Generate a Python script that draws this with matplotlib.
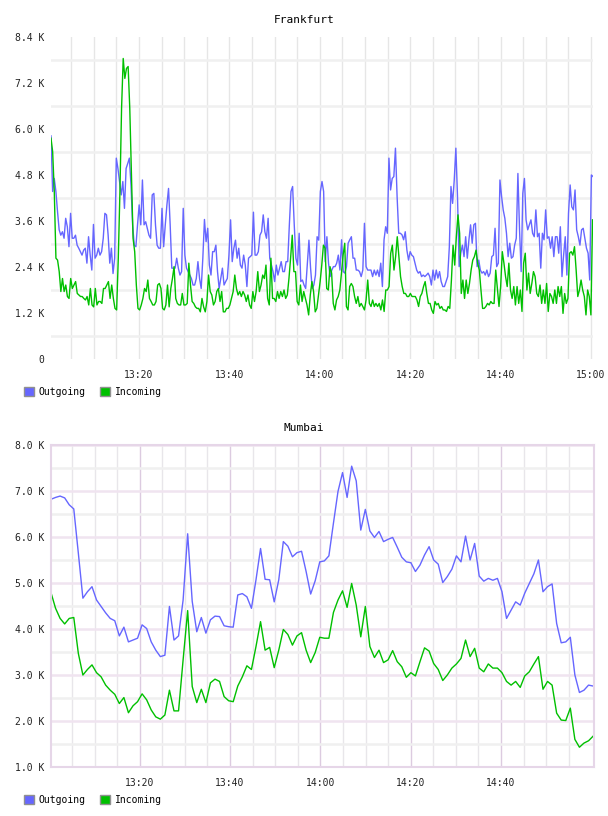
import matplotlib.pyplot as plt
import numpy as np
from matplotlib.patches import Patch

# minutes after 13:00, values in K
frankfurt_out = [
    5.82, 4.37, 4.71, 4.37, 3.84, 3.37, 3.23, 3.32, 3.15, 3.67, 3.45, 2.93, 3.80, 3.15, 3.15, 3.23,
    2.97, 2.89, 2.80, 2.71, 2.84, 2.89, 2.50, 3.19, 2.71, 2.32, 3.51, 2.63, 2.71, 2.89, 2.71, 2.80,
    3.15, 3.80, 3.76, 3.23, 2.50, 2.89, 2.23, 2.63, 5.24, 4.97, 4.63, 4.28, 4.63, 3.93, 4.97, 5.10,
    5.24, 4.54, 3.50, 2.97, 2.93, 3.50, 4.02, 3.50, 4.67, 3.50, 3.58, 3.41, 3.23, 3.15, 4.28, 4.32,
    3.50, 2.97, 2.89, 2.89, 3.93, 2.93, 3.50, 4.02, 4.45, 3.50, 2.37, 2.37, 2.37, 2.63, 2.37, 2.19,
    2.28, 3.93, 2.71, 2.37, 2.28, 2.19, 2.10, 1.93, 1.93, 2.10, 2.54, 2.10, 1.84, 2.63, 3.64, 3.06,
    3.41, 2.45, 2.19, 2.80, 2.80, 2.97, 2.28, 1.84, 2.10, 2.37, 1.93, 2.02, 2.10, 2.71, 3.63, 2.54,
    2.89, 3.10, 2.63, 2.89, 2.45, 2.37, 2.71, 2.45, 1.89, 2.63, 2.67, 2.71, 3.83, 2.71, 2.71, 2.80,
    3.23, 3.32, 3.76, 3.32, 3.15, 3.67, 2.63, 2.45, 2.28, 2.02, 2.45, 2.19, 2.37, 2.54, 2.28, 2.28,
    2.54, 2.54, 3.50, 4.37, 4.50, 3.50, 2.63, 2.45, 3.28, 2.02, 2.06, 1.93, 1.84, 2.45, 3.10, 2.37,
    1.84, 1.93, 2.19, 3.19, 3.10, 4.37, 4.63, 4.37,
    2.54, 3.19, 2.50, 2.15, 2.32, 2.41, 2.41, 2.50, 2.71, 2.32, 3.11, 2.28, 2.24, 2.41, 3.02, 3.11,
    3.19, 2.63, 2.63, 2.32, 2.32, 2.28, 2.15, 2.32, 3.54, 2.41, 2.32, 2.32, 2.32, 2.15, 2.32, 2.19,
    2.32, 2.15, 2.50, 1.89, 3.11, 3.45, 3.28, 5.24, 4.41, 4.71, 4.76, 5.50, 4.24, 3.28, 3.28, 3.24,
    3.11, 3.32, 2.84, 2.58, 2.80, 2.71, 2.67, 2.50, 2.32, 2.24, 2.28, 2.15, 2.19, 2.15, 2.19, 2.24,
    2.15, 1.93, 2.32, 2.06, 2.32, 2.11, 2.28, 2.02, 1.89, 1.89, 2.02, 2.15, 2.93, 4.50, 4.06, 4.67,
    5.50, 4.24, 2.41, 2.76, 2.97, 2.67, 3.19, 2.63, 3.11, 3.50, 3.02, 3.50, 3.54, 2.41, 2.58, 2.32,
    2.24, 2.28, 2.19, 2.32, 2.15, 2.24, 2.67, 2.71, 3.41, 2.41, 2.50, 4.67, 4.24, 3.89, 3.67, 3.28,
    2.67, 3.02, 2.63, 2.67, 2.97, 3.15, 4.84, 3.37, 2.28, 4.32, 4.71, 3.63, 3.37, 3.50, 3.63, 3.28,
    3.19, 3.89, 3.19, 3.28, 2.37, 3.28, 3.11, 3.89, 3.15, 3.19, 2.89, 3.19, 2.67, 3.19, 3.19, 2.76,
    3.45, 2.15, 2.71, 3.19, 2.19, 3.80, 4.54, 3.97, 3.89, 4.41, 3.37, 3.19, 2.97, 3.37, 3.41, 3.15,
    2.89, 2.76, 2.06, 4.80, 4.76,
]
frankfurt_in = [
    5.76, 5.41, 4.37, 2.63, 2.58, 2.28, 1.76, 2.10, 1.76, 1.93, 1.63, 1.58, 2.10,
    1.84, 1.93, 2.02, 1.71, 1.67, 1.63, 1.63, 1.58, 1.54, 1.63, 1.41, 1.84, 1.41, 1.36, 1.84, 1.41,
    1.50, 1.50, 1.45, 1.84, 1.84, 1.93, 2.02, 1.58, 1.93, 1.58, 1.32, 1.28, 2.63, 4.37, 6.54, 7.84,
    7.32, 7.58, 7.63, 6.54, 4.80, 3.15, 2.80, 1.93, 1.32, 1.28, 1.41, 1.58, 1.84, 1.76, 2.06, 1.58,
    1.50, 1.41, 1.41, 1.50, 1.93, 1.97, 1.84, 1.32, 1.28, 1.41, 1.93, 1.36, 1.84, 2.10, 2.41, 1.58,
    1.45, 1.41, 1.41, 1.71, 1.41, 1.41, 1.45, 2.50, 1.93, 1.50, 1.45, 1.36, 1.32, 1.32, 1.23, 1.58,
    1.36, 1.23, 1.50, 2.19, 1.76, 1.67, 1.41, 1.50, 1.76, 1.84, 1.50, 1.76, 1.23, 1.23, 1.32, 1.32,
    1.41, 1.58, 1.76, 2.19, 1.84, 1.67, 1.76, 1.63, 1.76, 1.67, 1.50, 1.67, 1.41, 1.32, 1.76, 1.50,
    1.76, 2.28, 1.76, 1.93, 2.19, 2.10, 2.45, 1.58, 1.41, 2.63, 1.58, 1.58, 1.50, 1.76, 1.58, 1.76,
    1.63, 1.80, 1.58, 1.67, 2.10, 2.63, 3.23, 2.28, 2.28, 1.50, 1.41, 1.93, 1.50, 1.76, 1.58, 1.41,
    1.15, 1.67, 2.02, 1.76, 1.23, 1.32, 1.67, 2.02, 2.45, 2.97, 2.89, 1.84,
    1.80, 2.41, 2.24, 1.45, 1.28, 1.54, 1.63, 1.80, 2.24, 2.71, 3.02, 1.37, 1.28, 1.89, 1.97, 1.89,
    1.63, 1.45, 1.63, 1.37, 1.45, 1.37, 1.28, 1.54, 2.06, 1.45, 1.37, 1.54, 1.37, 1.45, 1.37, 1.45,
    1.28, 1.54, 1.24, 1.80, 1.80, 1.89, 2.76, 2.97, 2.32, 2.67, 3.19, 2.67, 2.15, 1.89, 1.71, 1.71,
    1.63, 1.63, 1.71, 1.63, 1.63, 1.63, 1.54, 1.37, 1.63, 1.71, 1.89, 2.02, 1.71, 1.45, 1.45, 1.28,
    1.19, 1.50, 1.41, 1.45, 1.32, 1.37, 1.28, 1.28, 1.24, 1.37, 1.32, 2.06, 2.97, 2.45, 3.19, 3.76,
    3.28, 1.71, 2.06, 1.58, 2.06, 1.71, 1.97, 2.32, 2.58, 2.67, 2.84, 2.50, 2.32, 1.80, 1.32, 1.32,
    1.37, 1.45, 1.41, 1.50, 1.45, 1.45, 2.32, 1.84, 1.37, 1.89, 2.80, 2.50, 2.15, 1.89, 2.50, 1.80,
    1.58, 1.89, 1.41, 1.89, 1.45, 1.80, 1.24, 2.50, 2.76, 1.80, 2.24, 1.71, 1.97, 2.28, 2.15, 1.71,
    1.63, 1.93, 1.45, 1.80, 1.45, 1.97, 1.24, 1.71, 1.63, 1.45, 1.80, 1.45, 1.89, 1.63, 1.89, 1.19,
    1.71, 1.45, 1.58, 2.76, 2.80, 2.71, 2.93, 2.32, 1.63, 1.80, 2.06, 1.80, 1.63, 1.15, 1.80, 1.63,
    1.15, 3.63,
]

mumbai_out = [
    6.82, 6.86, 6.89, 6.85, 6.70, 6.61, 5.65, 4.67, 4.81, 4.92, 4.63, 4.49, 4.35, 4.23, 4.18, 3.85,
    4.04, 3.72, 3.76, 3.80, 4.09, 4.01, 3.72, 3.54, 3.40, 3.43, 4.49, 3.76, 3.85, 4.63, 6.07, 4.60,
    3.94, 4.25, 3.91, 4.20, 4.28, 4.27, 4.07, 4.05, 4.04, 4.74, 4.77, 4.70, 4.45, 5.07, 5.75, 5.08,
    5.07, 4.59, 5.07, 5.90, 5.80, 5.57, 5.66, 5.69, 5.25, 4.76, 5.05, 5.46, 5.48, 5.59, 6.30, 6.99,
    7.40, 6.86, 7.54, 7.22, 6.15, 6.60, 6.13, 5.99, 6.12, 5.90, 5.95, 5.99, 5.78, 5.56, 5.46, 5.44,
    5.25, 5.39, 5.61, 5.79, 5.50, 5.41, 5.01, 5.14, 5.30, 5.59, 5.46, 6.02, 5.50, 5.86, 5.15, 5.04,
    5.10, 5.06, 5.10, 4.81, 4.23, 4.41, 4.59, 4.52, 4.78, 4.99, 5.20, 5.50, 4.81, 4.92, 4.98, 4.12,
    3.70, 3.72, 3.82, 3.00, 2.62, 2.67, 2.78, 2.76,
]
mumbai_in = [
    4.79, 4.45, 4.23, 4.11, 4.23, 4.25, 3.47, 3.00, 3.12, 3.22, 3.05, 2.96, 2.78, 2.67, 2.58, 2.38,
    2.51, 2.18, 2.33, 2.42, 2.59, 2.46, 2.24, 2.09, 2.04, 2.13, 2.67, 2.22, 2.22, 3.33, 4.40, 2.75,
    2.40, 2.69, 2.40, 2.83, 2.91, 2.86, 2.53, 2.44, 2.42, 2.76, 2.96, 3.20, 3.12, 3.62, 4.16, 3.54,
    3.60, 3.16, 3.54, 3.99, 3.88, 3.65, 3.85, 3.92, 3.54, 3.27, 3.49, 3.82, 3.80, 3.80, 4.36, 4.63,
    4.83, 4.47, 4.99, 4.52, 3.83, 4.49, 3.62, 3.38, 3.54, 3.27, 3.33, 3.53, 3.29, 3.18, 2.95, 3.05,
    2.98, 3.29, 3.59, 3.52, 3.25, 3.12, 2.88, 3.00, 3.15, 3.24, 3.36, 3.76, 3.40, 3.58, 3.15, 3.07,
    3.24, 3.15, 3.15, 3.05, 2.86, 2.78, 2.86, 2.73, 2.98, 3.07, 3.24, 3.40, 2.69, 2.86, 2.78, 2.17,
    2.02, 2.01, 2.28, 1.60, 1.43, 1.52, 1.57, 1.67,
]

time_labels = ['13:20', '13:40', '14:00', '14:20', '14:40', '15:00']
series_names = ['Outgoing', 'Incoming']

blue = '#6666ff'
green = '#00c000'
mono = 'DejaVu Sans Mono'
W, H = 608, 816

fig = plt.figure(figsize=(W / 100, H / 100), dpi=100)


def px_axes(left, top, right, bottom):
    return fig.add_axes([left / W, 1 - bottom / H, (right - left) / W, (bottom - top) / H])


def legend(ax, x, y):
    handles = [Patch(facecolor=blue, edgecolor='#909090', label=series_names[0]),
               Patch(facecolor=green, edgecolor='#909090', label=series_names[1])]
    ax.legend(handles=handles, loc='upper left', bbox_to_anchor=(x / W, 1 - y / H),
              bbox_transform=fig.transFigure, ncol=2, frameon=False,
              prop={'family': mono, 'size': 7}, handlelength=1.05, handleheight=1.05,
              handletextpad=0.45, columnspacing=1.5, borderpad=0, borderaxespad=0)


def style_ticks(ax):
    ax.tick_params(length=0, labelsize=7, labelcolor='#222222', which='both')
    ax.tick_params(axis='x', pad=8)
    ax.tick_params(axis='y', pad=5)
    for lab in ax.get_xticklabels() + ax.get_yticklabels():
        lab.set_family(mono)
    ax.set_axisbelow(True)


# ---------- Frankfurt ----------
ax1 = px_axes(51, 37, 593, 359)
t_out = np.linspace(0.53, 120.45, len(frankfurt_out))
t_in = np.linspace(0.53, 120.35, len(frankfurt_in))
ax1.plot(t_out, frankfurt_out, color=blue, lw=1.0)
ax1.plot(t_in, frankfurt_in, color=green, lw=1.0)
ax1.set_xlim(0.53, 120.45)
ax1.set_ylim(0, 8.4)
ax1.set_xticks(np.arange(20, 121, 20), time_labels)
ax1.set_xticks(np.arange(5, 121, 5), minor=True)
yt = np.arange(0, 8.41, 1.2)
ax1.set_yticks(yt, ['0'] + ['%.1f K' % v for v in yt[1:]])
ax1.set_yticks(np.arange(0.6, 8.4, 1.2), minor=True)
ax1.grid(False)
ax1.grid(axis='x', which='both', color='#e6e6e6', lw=1.0)
ax1.grid(axis='y', which='minor', color='#f0f0f0', lw=1.8)
for s in ax1.spines.values():
    s.set_visible(False)
style_ticks(ax1)
fig.text(0.5, 1 - 20 / H, 'Frankfurt', ha='center', va='center', family=mono, fontsize=8)
legend(ax1, 24, 387)

# ---------- Mumbai ----------
ax2 = px_axes(51, 445, 594, 767)
t2 = np.linspace(0.35, 120.4, len(mumbai_out))
ax2.plot(t2, mumbai_out, color=blue, lw=1.0)
ax2.plot(t2, mumbai_in, color=green, lw=1.0)
ax2.set_xlim(0.35, 120.6)
ax2.set_ylim(1, 8)
ax2.set_xticks(np.arange(20, 101, 20), time_labels[:5])
ax2.set_xticks([m for m in range(5, 120, 5) if m % 20], minor=True)
ax2.set_yticks(np.arange(1, 8.01, 1), ['%.1f K' % v for v in np.arange(1, 8.01, 1)])
ax2.set_yticks(np.arange(1.5, 8, 1), minor=True)
ax2.grid(axis='x', which='major', color='#dccbe0', lw=1.0)
ax2.grid(axis='x', which='minor', color='#e8e6ea', lw=1.0)
ax2.grid(axis='y', which='major', color='#f0e4f0', lw=1.8)
ax2.grid(axis='y', which='minor', color='#f0f0f0', lw=1.8)
for s in ax2.spines.values():
    s.set_color('#e6d6e8')
    s.set_linewidth(1.5)
style_ticks(ax2)
fig.text(0.5, 1 - 428 / H, 'Mumbai', ha='center', va='center', family=mono, fontsize=8)
legend(ax2, 24, 795)

fig.savefig('out.png', dpi=100, facecolor='white')
